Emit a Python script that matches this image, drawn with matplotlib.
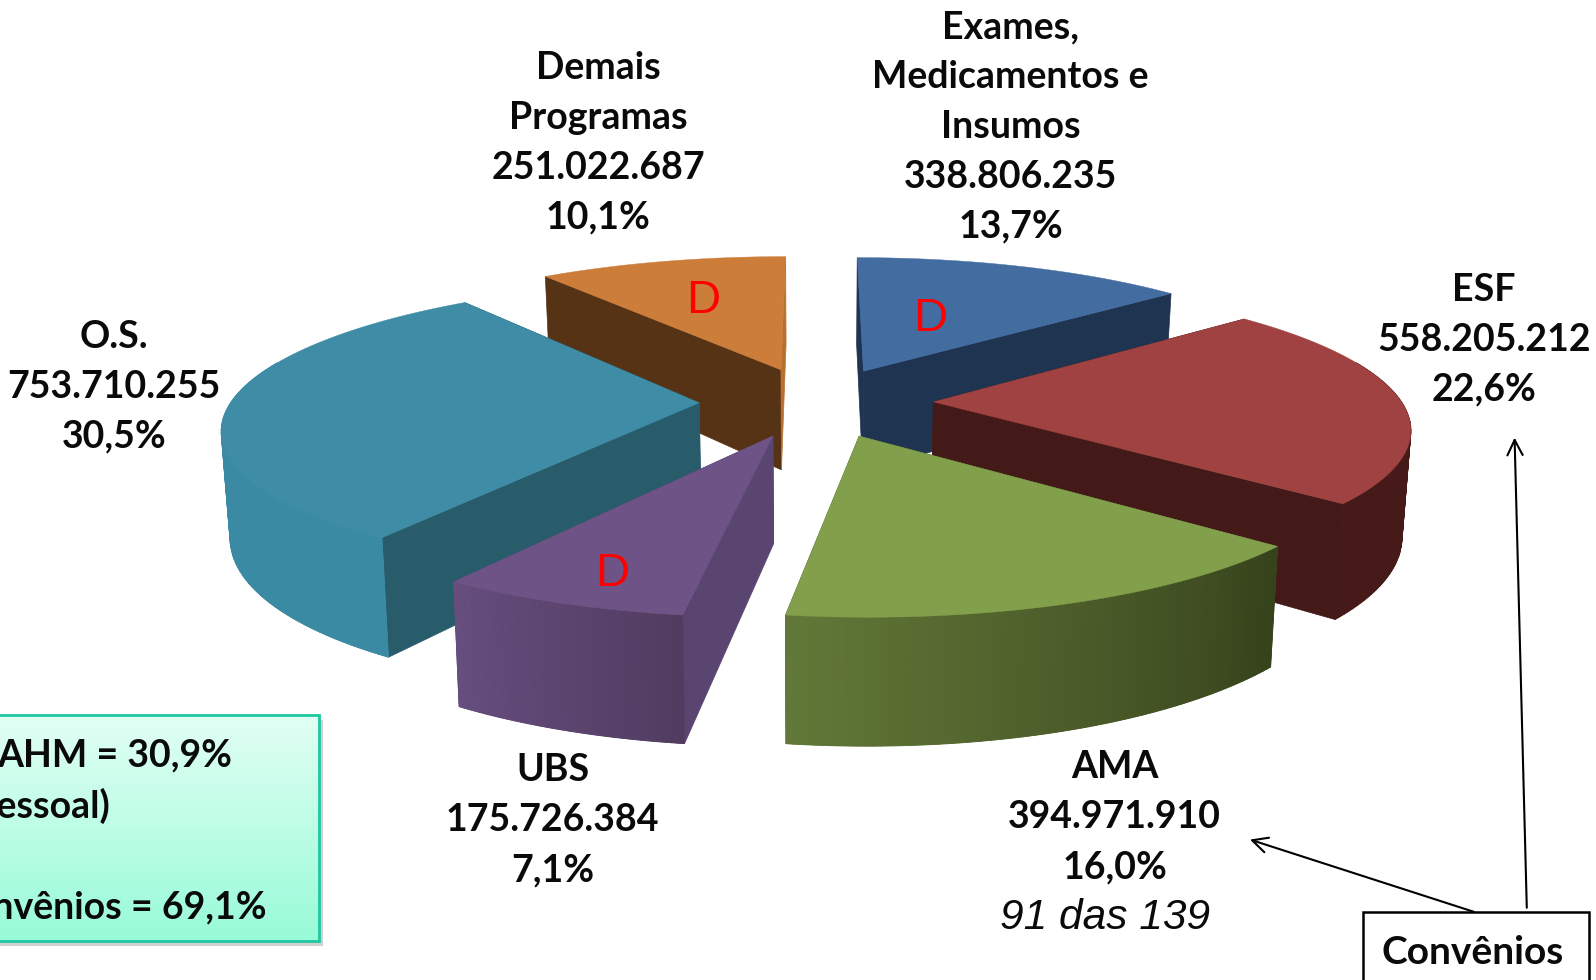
import numpy as np
import matplotlib
matplotlib.use('Agg')
import matplotlib.pyplot as plt
from matplotlib.colors import to_rgb
from matplotlib.patches import Rectangle

# data, clockwise from 12 o'clock
names = ['Exames,\nMedicamentos e\nInsumos', 'ESF', 'AMA', 'UBS', 'O.S.', 'Demais\nProgramas']
values = [338806235, 558205212, 394971910, 175726384, 753710255, 251022687]
percents = [13.7, 22.6, 16.0, 7.1, 30.5, 10.1]
marked_d = ['Exames,\nMedicamentos e\nInsumos', 'UBS', 'Demais\nProgramas']
box_lines = ['AHM = 30,9%', '(Pessoal)', 'Convênios = 69,1%']
ama_note = '91 das 139'
convenios = 'Convênios'

# look of each slice: top, cut faces, outer wall at first and last angle
top_col = ['#436ca1', '#a04241', '#829f4b', '#6e5486', '#3e8ca6', '#cc7d39']
face_a = ['#1f3450', '#431a18', '#4e6030', '#5a4470', '#285c6b', '#573316']
face_b = ['#1f3450', '#431a18', '#4e6030', '#5a4470', '#285c6b', '#b8702f']
wall_a = ['#2a4566', '#451a18', '#36421b', '#513c60', '#3a8aa4', '#8a5522']
wall_b = ['#2a4566', '#451a18', '#627838', '#664e7f', '#3a8aa4', '#8a5522']
draw_order = [5, 0, 4, 1, 3, 2]

# pie projection, in pixels of the 1568 wide picture
CX, CY = 802, 395
RX, RY = 460, 138
KP = 0.158      # perspective
EXPL = 0.25     # explode
DEPTH = 102
SHRINK = 0.985  # bottom rim is a little narrower


def project(u, v, low=False):
    w = 1 - KP * v
    x = RX * u / w
    y = RY * v / w
    if low:
        return CX + x * SHRINK, CY + y + DEPTH / w
    return CX + x, CY + y


def money(v):
    return f'{v:,}'.replace(',', '.')


fig = plt.figure(figsize=(15.96, 9.8), dpi=100)
ax = fig.add_axes([0, 0, 1, 1])
ax.axis('off')

fracs = np.array(values) / sum(values)
edges = np.concatenate([[0], np.cumsum(fracs)]) * 2 * np.pi

for order, i in enumerate(draw_order):
    z = 2 + order
    a0, a1 = edges[i], edges[i + 1]
    mid = (a0 + a1) / 2
    eu, ev = EXPL * np.sin(mid), -EXPL * np.cos(mid)
    th = np.linspace(a0, a1, 80)
    u = eu + np.sin(th)
    v = ev - np.cos(th)
    xt, yt = project(u, v)
    xb, yb = project(u, v, low=True)
    ax0, ay0 = project(eu, ev)
    bx0, by0 = project(eu, ev, low=True)

    # cut faces first, the top hides the ones turned away
    ax.fill([ax0, xt[0], xb[0], bx0], [ay0, yt[0], yb[0], by0], color=face_a[i], lw=0.5, zorder=z)
    ax.fill([ax0, xt[-1], xb[-1], bx0], [ay0, yt[-1], yb[-1], by0], color=face_b[i], lw=0.5, zorder=z)

    # outer wall, only the part that faces the viewer
    front = np.where(-np.cos(th) > -0.3)[0]
    if len(front) > 1:
        c0, c1 = np.array(to_rgb(wall_a[i])), np.array(to_rgb(wall_b[i]))
        ax.fill(np.r_[xt[front], xb[front][::-1]], np.r_[yt[front], yb[front][::-1]],
                color=(c0 + c1) / 2, lw=0, zorder=z)
        for k in front[:-1]:
            col = c0 + (c1 - c0) * k / (len(th) - 2)
            ax.fill([xt[k], xt[k + 1], xb[k + 1], xb[k]], [yt[k], yt[k + 1], yb[k + 1], yb[k]],
                    color=col, lw=0.6, zorder=z)
    ax.fill(np.r_[ax0, xt], np.r_[ay0, yt], color=top_col[i], lw=0.3, zorder=z)

# slice labels
label_pos = {'Exames,\nMedicamentos e\nInsumos': (993, 27), 'ESF': (1458, 285), 'AMA': (1095, 754),
             'UBS': (543, 757), 'O.S.': (112, 331), 'Demais\nProgramas': (588, 67)}
d_pos = {'Exames,\nMedicamentos e\nInsumos': (914, 313), 'UBS': (601, 564), 'Demais\nProgramas': (691, 296)}
for name, val, pct in zip(names, values, percents):
    lines = name.split('\n') + [money(val), f'{pct:.1f}%'.replace('.', ',')]
    x, y = label_pos[name]
    for n, line in enumerate(lines):
        ax.text(x, y + n * 49, line, ha='center', va='center', fontsize=27, family='Lato',
                fontweight='bold', color='#0a0a0a', zorder=20)
for name in marked_d:
    ax.text(*d_pos[name], 'D', ha='center', va='center', fontsize=34, family='Liberation Sans',
            color='#ff0000', zorder=20)
ax.text(1086, 902, ama_note, ha='center', va='center', fontsize=30.5, family='Liberation Sans',
        style='italic', color='#0a0a0a', zorder=20)

# green box, runs off the left side
ax.add_patch(Rectangle((-20, 708), 337, 222, color='#999999', alpha=0.45, lw=0, zorder=9))
grad = np.linspace(0, 1, 200)[:, None, None]
top_rgb, low_rgb = np.array(to_rgb('#e2fff4')), np.array(to_rgb('#98fbd8'))
ax.imshow(top_rgb + (low_rgb - top_rgb) * grad, extent=(-20, 313, 925, 703), aspect='auto', zorder=10)
ax.add_patch(Rectangle((-20, 703), 333, 222, fill=False, ec='#1ec8a0', lw=2, zorder=11))
for line, x, y in zip(box_lines, [228, 108, 262], [742, 792, 892]):
    ax.text(x, y, line, ha='right', va='center', fontsize=27, family='Lato', fontweight='bold',
            color='#0a0a0a', zorder=12)

# Convênios box and arrows
ax.add_patch(Rectangle((1339, 896), 222, 110, fc='white', ec='black', lw=1.8, zorder=12))
ax.text(1447, 936, convenios, ha='center', va='center', fontsize=28, family='Lato', fontweight='bold',
        color='#0a0a0a', zorder=13)
arrow = dict(arrowstyle='->,head_length=1.1,head_width=0.55', color='black', lw=1.5, shrinkA=0, shrinkB=0)
ax.annotate('', xy=(1228, 825), xytext=(1448, 896), arrowprops=arrow, zorder=13)
ax.annotate('', xy=(1488, 430), xytext=(1500, 892), arrowprops=arrow, zorder=13)

ax.set_xlim(0, 1568)
ax.set_ylim(963, 0)
fig.savefig('out.png', dpi=100)
